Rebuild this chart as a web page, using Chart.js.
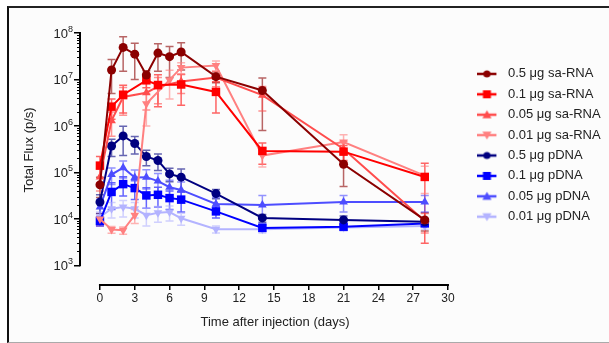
<!DOCTYPE html>
<html>
<head>
<meta charset="utf-8">
<script src="https://cdn.jsdelivr.net/npm/chart.js@4.4.1/dist/chart.umd.min.js"></script>
<style>
html,body{margin:0;padding:0;background:#fff;overflow:hidden;}
#frame{position:absolute;left:7px;top:6px;width:605px;height:334px;border-left:2px solid #111;border-top:2px solid #222;border-bottom:1px solid #aaa;background:#fcfcfc;}
#wrap{position:absolute;left:0;top:0;width:609px;height:343px;}
</style>
</head>
<body>
<div id="frame"></div>
<div id="wrap"><canvas id="myChart"></canvas></div>
<script>
// days of imaging
const daysAll = [0, 1, 2, 3, 4, 5, 6, 7, 10, 14, 21, 28]
const daysRna = [0, 1, 2, 4, 5, 7, 10, 14, 21, 28]
const daysRnaLow = [0, 1, 2, 3, 4, 6, 7, 10, 14, 21, 28]

// total flux (p/s), mean and SD
const rna05 = [5.4e4, 1.6e7, 4.9e7, 3.5e7, 1.25e7, 3.7e7, 3.1e7, 3.9e7, 1.15e7, 5.8e6, 1.5e5, 9.5e3]
const rna05_sd = [2.5e4, 1.1e7, 3.4e7, 2.5e7, 3e6, 2.2e7, 2e7, 2.3e7, 3e6, 5e6, 1e5, 4e3]
const rna01 = [1.4e5, 2.6e6, 4.7e6, 9.6e6, 7.6e6, 7.8e6, 5.4e6, 2.9e5, 2.8e5, 8e4]
const rna01_sd = [8e4, 1.2e6, 2.8e6, 3e6, 5e6, 5e6, 3.5e6, 1.4e5, 1e5, 7.7e4]
const rna005 = [8e4, 1.3e6, 4.2e6, 5.2e6, 7e6, 9e6, 1.1e7, 4.6e6, 3.2e5, 9e3]
const rna005_sd = [4e4, 7e5, 2.5e6, 3e6, 4e6, 4e6, 4e6, 2.5e6, 1.5e5, 4e3]
const rna001 = [1e4, 5.9e3, 5.7e3, 1.2e4, 3e6, 9.8e6, 1.8e7, 2e7, 2.3e5, 4.5e5, 8.5e4]
const rna001_sd = [3e3, 1e3, 1e3, 4e3, 2e6, 6e6, 5e6, 5e6, 1e5, 2e5, 5e4]
const dna05 = [2.3e4, 3.7e5, 6.1e5, 4.2e5, 2.2e5, 1.8e5, 9.3e4, 7.9e4, 3.5e4, 1.05e4, 9.5e3, 8.7e3]
const dna05_sd = [1e4, 1.5e5, 3.8e5, 1.7e5, 8e4, 7e4, 3e4, 4e4, 8e3, 2e3, 2e3, 1.5e3]
const dna01 = [9e3, 3.8e4, 5.6e4, 4.6e4, 3.2e4, 3.3e4, 2.8e4, 2.6e4, 1.45e4, 6.4e3, 6.8e3, 8e3]
const dna01_sd = [2e3, 2.2e4, 2.5e4, 2e4, 1.5e4, 1.5e4, 1.2e4, 1.2e4, 4e3, 1e3, 1e3, 1e3]
const dna005 = [1.8e4, 9e4, 1.26e5, 7.8e4, 7.9e4, 6.5e4, 4.8e4, 4.2e4, 2.1e4, 2e4, 2.3e4, 2.3e4]
const dna005_sd = [8e3, 3.5e4, 5e4, 3.5e4, 3.5e4, 3e4, 2e4, 2e4, 8e3, 1.2e4, 9e3, 9e3]
const dna001 = [1.1e4, 1.65e4, 1.8e4, 1.65e4, 1.2e4, 1.35e4, 1.4e4, 1.03e4, 6e3, 6e3, 6.5e3, 7e3]
const dna001_sd = [3e3, 6e3, 7e3, 6e3, 5e3, 5e3, 5e3, 3e3, 1e3, 1e3, 1e3, 1e3]

const xTicks = [0, 3, 6, 9, 12, 15, 18, 21, 24, 27, 30]
const yTicks = [1e3, 1e4, 1e5, 1e6, 1e7, 1e8]

const yMin = 378
const xMin = -1.72
const xMax = 31.9

Chart.defaults.font.family = 'Liberation Sans, Arial, sans-serif'
Chart.defaults.color = '#222'

function pts(days, vals){
    return days.map((d, i) => ({x: d, y: vals[i]}))
}

function series(label, days, vals, sd, color, shape){
    let style = shape
    let rot = 0
    let r = 4.5
    if(shape == 'down'){ style = 'triangle'; rot = 180 }
    if(shape == 'up'){ style = 'triangle' }
    if(shape == 'rect'){ r = 6 }
    if(style == 'triangle'){ r = 5 }
    return {
        label: label,
        data: pts(days, vals),
        errs: sd,
        shape: shape,
        borderColor: color,
        backgroundColor: color,
        borderWidth: 2,
        pointStyle: style,
        rotation: rot,
        pointRadius: r,
        pointBorderWidth: 0,
        tension: 0,
        clip: false
    }
}

// line + marker icon for the legend, line is 19px and the rest is empty
function legendIcon(color, shape){
    const c = document.createElement('canvas')
    c.width = 24
    c.height = 12
    const g = c.getContext('2d')
    g.strokeStyle = color
    g.fillStyle = color
    g.lineWidth = 2.5
    g.beginPath()
    g.moveTo(0, 6)
    g.lineTo(19, 6)
    g.stroke()
    g.beginPath()
    const cx = 9.5
    if(shape == 'circle') g.arc(cx, 6, 3.6, 0, Math.PI * 2)
    else if(shape == 'rect') g.rect(cx - 4, 2, 8, 8)
    else if(shape == 'up'){ g.moveTo(cx, 1.5); g.lineTo(cx + 4.5, 9.5); g.lineTo(cx - 4.5, 9.5); g.closePath() }
    else { g.moveTo(cx - 4.5, 2.5); g.lineTo(cx + 4.5, 2.5); g.lineTo(cx, 10.5); g.closePath() }
    g.fill()
    return c
}

// error bars drawn under the markers
const errorBars = {
    id: 'errorBars',
    beforeDatasetsDraw(chart){
        const ctx = chart.ctx
        const y = chart.scales.y
        chart.data.datasets.forEach((ds, i) => {
            const meta = chart.getDatasetMeta(i)
            ctx.save()
            ctx.strokeStyle = ds.borderColor
            ctx.globalAlpha = 0.6
            ctx.lineWidth = 1.5
            meta.data.forEach((p, j) => {
                const v = ds.data[j].y
                const e = ds.errs[j]
                const top = y.getPixelForValue(v + e)
                const bot = y.getPixelForValue(Math.max(v - e, yMin))
                ctx.beginPath()
                ctx.moveTo(p.x, top); ctx.lineTo(p.x, bot)
                ctx.moveTo(p.x - 4, top); ctx.lineTo(p.x + 4, top)
                if(v - e > yMin){ ctx.moveTo(p.x - 4, bot); ctx.lineTo(p.x + 4, bot) }
                ctx.stroke()
            })
            ctx.restore()
        })
    }
}

// offset axis lines, minor log ticks and 10^n labels
const prismAxes = {
    id: 'prismAxes',
    afterDraw(chart){
        const ctx = chart.ctx
        const x = chart.scales.x
        const y = chart.scales.y
        const left = chart.chartArea.left
        const bottom = chart.chartArea.bottom
        ctx.save()
        ctx.strokeStyle = '#000'
        ctx.lineWidth = 2
        ctx.beginPath()
        ctx.moveTo(left, y.getPixelForValue(1e8) - 1)
        ctx.lineTo(left, y.getPixelForValue(1e3) + 1)
        ctx.moveTo(x.getPixelForValue(0) - 1, bottom)
        ctx.lineTo(x.getPixelForValue(30) + 1, bottom)
        ctx.stroke()
        ctx.lineWidth = 1
        ctx.beginPath()
        for(let e = 3; e < 8; e++){
            for(let m = 2; m < 10; m++){
                const py = Math.round(y.getPixelForValue(m * Math.pow(10, e))) + 0.5
                ctx.moveTo(left - 3, py)
                ctx.lineTo(left, py)
            }
        }
        ctx.stroke()

        ctx.fillStyle = '#222'
        ctx.textAlign = 'right'
        ctx.textBaseline = 'alphabetic'
        yTicks.forEach(v => {
            const py = y.getPixelForValue(v)
            const ex = String(Math.round(Math.log10(v)))
            ctx.font = '9px Liberation Sans, Arial, sans-serif'
            const ew = ctx.measureText(ex).width
            const rx = left - 7
            ctx.fillText(ex, rx, py - 1)
            ctx.font = '13px Liberation Sans, Arial, sans-serif'
            ctx.fillText('10', rx - ew, py + 5)
        })
        ctx.restore()
    }
}

const chart_flux = document.getElementById('myChart')
let flux_chart = new Chart(chart_flux, {
    type: 'line',
    data: {
        datasets: [
            series('0.5 μg sa-RNA', daysAll, rna05, rna05_sd, '#8B0000', 'circle'),
            series('0.1 μg sa-RNA', daysRna, rna01, rna01_sd, '#FF0000', 'rect'),
            series('0.05 μg sa-RNA', daysRna, rna005, rna005_sd, '#FF4D4D', 'up'),
            series('0.01 μg sa-RNA', daysRnaLow, rna001, rna001_sd, '#FF8080', 'down'),
            series('0.5 μg pDNA', daysAll, dna05, dna05_sd, '#000080', 'circle'),
            series('0.1 μg pDNA', daysAll, dna01, dna01_sd, '#0000FF', 'rect'),
            series('0.05 μg pDNA', daysAll, dna005, dna005_sd, '#4D4DFF', 'up'),
            series('0.01 μg pDNA', daysAll, dna001, dna001_sd, '#B3B3FF', 'down')
        ]
    },
    options: {
        responsive: true,
        maintainAspectRatio: false,
        animation: false,
        layout: {
            padding: {left: 14, right: 0, top: 33, bottom: 9}
        },
        scales: {
            x: {
                type: 'linear',
                min: xMin,
                max: xMax,
                afterBuildTicks: (s) => { s.ticks = xTicks.map(v => ({value: v})) },
                ticks: {
                    autoSkip: false,
                    maxRotation: 0,
                    padding: 1,
                    font: {size: 12},
                    color: '#222'
                },
                grid: {
                    drawOnChartArea: false,
                    drawTicks: true,
                    tickLength: 5,
                    color: '#000',
                    lineWidth: 1.5
                },
                border: {display: false},
                title: {
                    display: true,
                    text: 'Time after injection (days)',
                    font: {size: 13},
                    color: '#222',
                    padding: {top: 8, bottom: 4}
                }
            },
            y: {
                type: 'logarithmic',
                min: yMin,
                max: 1e8,
                afterBuildTicks: (s) => { s.ticks = yTicks.map(v => ({value: v})) },
                afterFit: (s) => { s.width = 66 },
                ticks: {display: false},
                grid: {
                    drawOnChartArea: false,
                    drawTicks: true,
                    tickLength: 6,
                    color: '#000',
                    lineWidth: 1.5
                },
                border: {display: false},
                title: {
                    display: true,
                    text: '     Total Flux (p/s)',
                    font: {size: 13},
                    color: '#222',
                    padding: {top: 8, bottom: 4}
                }
            }
        },
        plugins: {
            legend: {
                display: true,
                position: 'right',
                align: 'start',
                maxWidth: 139,
                title: {
                    display: true,
                    text: '',
                    font: {size: 10},
                    padding: {top: 15, bottom: 0}
                },
                labels: {
                    usePointStyle: true,
                    pointStyleWidth: 24,
                    padding: 7.4,
                    font: {size: 13},
                    color: '#222',
                    generateLabels: (chart) => chart.data.datasets.map((ds, i) => ({
                        text: ds.label,
                        pointStyle: legendIcon(ds.borderColor, ds.shape),
                        fillStyle: ds.borderColor,
                        strokeStyle: ds.borderColor,
                        lineWidth: 0,
                        hidden: false,
                        datasetIndex: i,
                        fontColor: '#222'
                    }))
                }
            },
            tooltip: {enabled: false}
        }
    },
    plugins: [errorBars, prismAxes]
});
</script>
</body>
</html>
